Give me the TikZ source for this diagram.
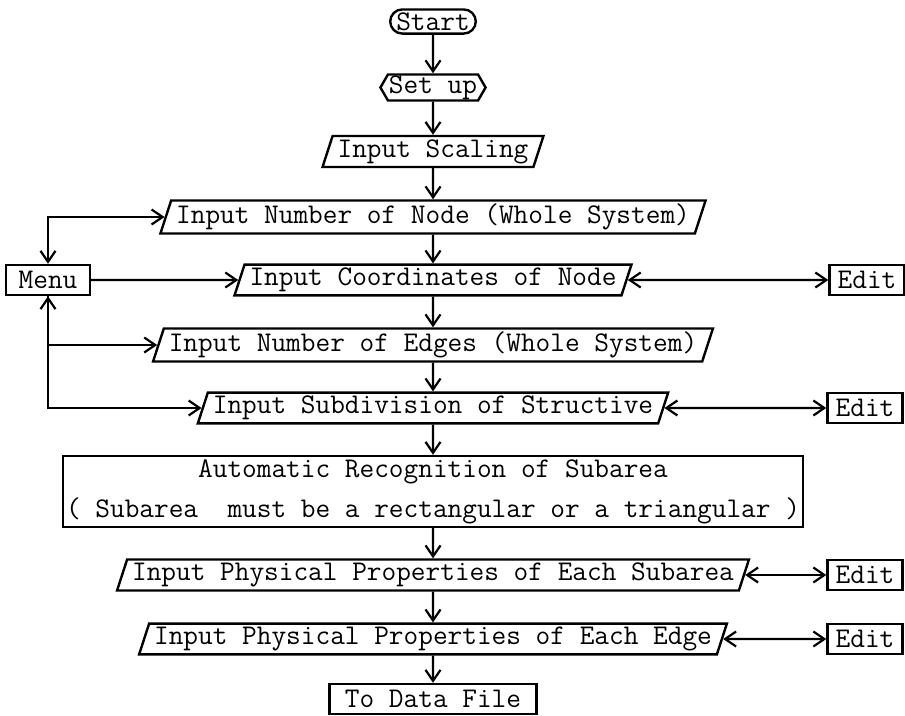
\documentclass[tikz,border=0pt]{standalone}
\usepackage{fontspec}
\usetikzlibrary{positioning, shapes.geometric, shapes.misc, shapes.symbols, arrows.meta}

\begin{document}
\begin{tikzpicture}[on grid, x=1pt, y=1pt,
every node/.style={font=\ttfamily\fontsize{28.5}{32}\selectfont},
>={Straight Barb[length=11pt,width=15pt]},
link/.style={line width=2.2pt},
termbox/.style={draw, line width=2.4pt, rounded rectangle, inner xsep=2pt, inner ysep=3pt},
prepbox/.style={draw, line width=2.4pt, signal, signal to=west and east, signal pointer angle=120, inner xsep=1pt, inner ysep=1pt},
iobox/.style={draw, line width=2.4pt, trapezium, trapezium left angle=72, trapezium right angle=108, minimum height=28pt, inner xsep=5pt},
procbox/.style={draw, line width=2.4pt, rectangle, minimum height=30pt}]
\useasboundingbox (0,0) rectangle (905,-715);

\node (start) [termbox] at (433,-21.5) {Start};
\node (setup) [prepbox, below=66pt of start] {Set up~};
\node (scaling) [iobox, below=64pt of setup] {Input Scaling};
\node (nodenum) [iobox, below=65.5pt of scaling] {Input Number of Node (Whole System)};
\node (coords) [iobox, below=63pt of nodenum] {Input Coordinates of Node};
\node (edgenum) [iobox, below=65pt of coords] {Input Number of Edges (Whole System)};
\node (subdiv) [iobox, below=63pt of edgenum] {Input Subdivision of Structive};
\node (recog) [procbox, below=83.5pt of subdiv, align=center, inner xsep=3pt, minimum height=67pt]
{Automatic Recognition of Subarea\\[8pt](~Subarea~~must be a rectangular or a triangular~)};
\node (subprop) [iobox, below=83.5pt of recog] {Input Physical Properties of Each Subarea};
\node (edgeprop) [iobox, below=64pt of subprop] {Input Physical Properties of Each Edge};
\node (datafile) [procbox, below=60pt of edgeprop, minimum width=207pt] {To Data File};

% menu on the left, edit boxes on the right
\node (menu) [procbox, left=385pt of coords, minimum width=84pt] {Menu};
\node (editA) [procbox, right=434pt of coords, minimum width=75pt] {Edit};
\node (editB) [procbox, right=432pt of subdiv, minimum width=75pt] {Edit};
\node (editC) [procbox, right=432pt of subprop, minimum width=75pt] {Edit};
\node (editD) [procbox, right=432pt of edgeprop, minimum width=75pt] {Edit};

% main flow
\draw[link, ->] (start) -- (setup);
\draw[link, ->] (setup) -- (scaling);
\draw[link, ->] (scaling) -- (nodenum);
\draw[link, ->] (nodenum) -- (coords);
\draw[link, ->] (coords) -- (edgenum);
\draw[link, ->] (edgenum) -- (subdiv);
\draw[link, ->] (subdiv) -- (recog);
\draw[link, ->] (recog) -- (subprop);
\draw[link, ->] (subprop) -- (edgeprop);
\draw[link, ->] (edgeprop) -- (datafile);

\draw[link, ->] (menu) -- (coords);
\draw[link, <->] (menu) |- (nodenum);
\draw[link, <->] (menu) |- (edgenum);
\draw[link, ->] (menu) |- (subdiv);

\draw[link, <->] (coords) -- (editA);
\draw[link, <->] (subdiv) -- (editB);
\draw[link, <->] (subprop) -- (editC);
\draw[link, <->] (edgeprop) -- (editD);
\end{tikzpicture}
\end{document}
